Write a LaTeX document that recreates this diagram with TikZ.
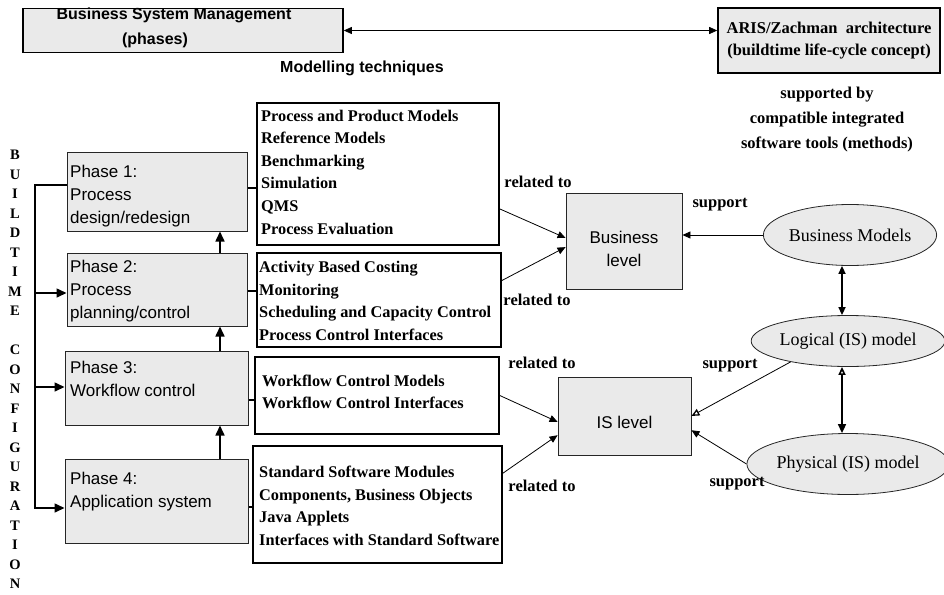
\documentclass[tikz,border=0pt]{standalone}
\usepackage{fontspec}
\setmainfont{Liberation Serif}
\setsansfont{Liberation Sans}
\usetikzlibrary{arrows.meta,shapes.geometric}
\definecolor{boxgrey}{RGB}{234,234,234}
\begin{document}
\begin{tikzpicture}[x=1pt,y=-1pt,
  >={Triangle[length=8pt,width=7pt]},
  thickbox/.style={draw=black, line width=1.6pt, fill=boxgrey, inner sep=0pt},
  phasebox/.style={draw=black!85, line width=1pt, fill=boxgrey, inner sep=0pt},
  techbox/.style={draw=black, line width=1.6pt, fill=white, inner sep=0pt},
  levelbox/.style={draw=black!85, line width=0.9pt, fill=boxgrey, inner sep=0pt},
  model/.style={ellipse, draw=black!85, line width=0.8pt, fill=boxgrey, inner sep=0pt},
  sanstext/.style={font=\sffamily\fontsize{17}{23}\selectfont, inner sep=0pt, align=left, anchor=west},
  listtext/.style={font=\bfseries\fontsize{16.3}{22.6}\selectfont, inner sep=0pt, align=left, anchor=west},
  lbl/.style={font=\bfseries\fontsize{16.5}{20}\selectfont, inner sep=0pt},
  vl/.style={font=\bfseries\fontsize{14.5}{14.5}\selectfont, inner sep=0pt},
  thickline/.style={line width=1.6pt},
  thinline/.style={line width=0.8pt},
  bigtip/.style={-{Triangle[length=10pt,width=9pt]}},
  opentip/.style={-{Triangle[open,length=8pt,width=7pt,line width=1.3pt]}}]
\useasboundingbox (0,0) rectangle (944,594);

% top boxes
\node[thickbox, minimum width=320pt, minimum height=44pt] (bsm) at (183,30.5) {};
\node[font=\sffamily\bfseries\fontsize{16}{18}\selectfont, inner sep=0pt] (bsmt1) at (174,15.5) {Business System Management};
\node[font=\sffamily\bfseries\fontsize{16}{18}\selectfont, inner sep=0pt] (bsmt2) at (155,40) {(phases)};
\node[thickbox, minimum width=222pt, minimum height=65pt, align=center,
      font=\bfseries\fontsize{16.5}{22}\selectfont] (aris) at (829,40.5)
      {ARIS/Zachman\ \ architecture\\(buildtime life-cycle concept)};
\draw[thinline,<->] (bsm.east) -- (aris.west |- bsm.east);
\node[font=\sffamily\bfseries\fontsize{16}{18}\selectfont, inner sep=0pt] (modtech) at (362,68) {Modelling techniques};
\node[lbl, align=center, font=\bfseries\fontsize{16.5}{25}\selectfont] (suppby) at (827,120)
  {supported by\\compatible integrated\\software tools (methods)};

% vertical text
\foreach \c [count=\i from 0] in {B,U,I,L,D,T,I,M,E}
  \node[vl] (vb\i) at (15,155+19.5*\i) {\c};
\foreach \c [count=\i from 10] in {C,O,N,F,I,G,U,R,A,T,I,O,N}
  \node[vl] (vc\i) at (15,155+19.5*\i) {\c};

% phase boxes
\node[phasebox, minimum width=180pt, minimum height=79pt] (p1) at (157,191.5) {};
\node[phasebox, minimum width=180pt, minimum height=73pt] (p2) at (157,289.5) {};
\node[phasebox, minimum width=183pt, minimum height=74pt] (p3) at (156.5,388) {};
\node[phasebox, minimum width=183pt, minimum height=84pt] (p4) at (156.5,501) {};
\node[sanstext] (pt1) at (70,196) {Phase 1:\\Process\\design/redesign};
\node[sanstext] (pt2) at (70,291) {Phase 2:\\Process\\planning/control};
\node[sanstext] (pt3) at (70,379) {Phase 3:\\Workflow control};
\node[sanstext] (pt4) at (70,492) {Phase 4:\\Application system};

% technique boxes
\node[techbox, minimum width=242pt, minimum height=142pt] (t1) at (378,174) {};
\node[techbox, minimum width=244pt, minimum height=94pt] (t2) at (379,300) {};
\node[techbox, minimum width=244pt, minimum height=77pt] (t3) at (377,395.5) {};
\node[techbox, minimum width=249pt, minimum height=117pt] (t4) at (377.5,504.5) {};
\node[listtext] (tt1) at (261,172) {Process and Product Models\\Reference Models\\Benchmarking\\Simulation\\QMS\\Process Evaluation};
\node[listtext] (tt2) at (259,301) {Activity Based Costing\\Monitoring\\Scheduling and Capacity Control\\Process Control Interfaces};
\node[listtext] (tt3) at (262,392) {Workflow Control Models\\Workflow Control Interfaces};
\node[listtext] (tt4) at (259,506) {Standard Software Modules\\Components, Business Objects\\Java Applets\\Interfaces with Standard Software};

% left bracket
\coordinate (lt) at (35,185);
\coordinate (lb) at (35,508);
\coordinate (a2) at (35,293);
\coordinate (a3) at (35,387);
\draw[thickline,bigtip] (p1.west |- lt) -- (lt) -- (lb) -- (p4.west |- lb);
\draw[thickline,bigtip] (a2) -- (p2.west |- a2);
\draw[thickline,bigtip] (a3) -- (p3.west |- a3);

% phase arrows
\coordinate (vx) at (220,0);
\draw[thickline,bigtip] (p2.north -| vx) -- (p1.south -| vx);
\draw[thickline,bigtip] (p3.north -| vx) -- (p2.south -| vx);
\draw[thickline,bigtip] (p4.north -| vx) -- (p3.south -| vx);

% short connectors
\coordinate (c1) at (0,188);
\coordinate (c2) at (0,291);
\coordinate (c3) at (0,400);
\coordinate (c4) at (0,507);
\draw[thickline] (p1.east |- c1) -- (t1.west |- c1);
\draw[thickline] (p2.east |- c2) -- (t2.west |- c2);
\draw[thickline] (p3.east |- c3) -- (t3.west |- c3);
\draw[thickline] (p4.east |- c4) -- (t4.west |- c4);

% level boxes
\node[levelbox, minimum width=116pt, minimum height=96pt] (bl) at (624,241) {};
\node[font=\sffamily\fontsize{17}{23}\selectfont, inner sep=0pt, align=center] (blt) at (624,249) {Business\\level};
\node[levelbox, minimum width=133pt, minimum height=78pt] (isl) at (624.5,416) {};
\node[font=\sffamily\fontsize{17}{23}\selectfont, inner sep=0pt] (islt) at (624.5,422) {IS level};

% models
\node[model, minimum width=166pt, minimum height=61pt, font=\fontsize{18}{20}\selectfont] (bm) at (850,235) {Business Models};
\node[model, minimum width=167pt, minimum height=51pt, font=\fontsize{18}{20}\selectfont] (lm) at (848,341) {Logical (IS) model};
\node[model, minimum width=169pt, minimum height=61pt, font=\fontsize{18}{20}\selectfont] (pm) at (848,464) {Physical (IS) model};

% related arrows
\draw[thinline,->] (t1.-16.6) -- (bl.177);
\draw[thinline,->] (t2.9.3) -- (bl.186);
\draw[thinline,->] (t3.-0.7) -- (isl.185);
\draw[thinline,->] (t4.14.2) -- (isl.196);

% support arrows
\coordinate (vx2) at (842,0);
\draw[thinline,->] (bm.west) -- (bm.west -| bl.east);
\draw[thickline,<->] (bm.south -| vx2) -- (lm.north -| vx2);
\draw[thickline,{Triangle[open,length=8pt,width=7pt]}-{Triangle[length=9pt,width=8pt]}] (lm.south -| vx2) -- (pm.north -| vx2);
\draw[thinline,opentip] (lm.200) -- (isl.east);
\draw[thinline,->] (pm.west) -- (isl.-12.7);

% labels
\node[lbl] (rel1) at (538,182) {related to};
\node[lbl] (rel2) at (537,300) {related to};
\node[lbl] (rel3) at (542,363) {related to};
\node[lbl] (rel4) at (542,486) {related to};
\node[lbl] (sup1) at (720,205) {support};
\node[lbl] (sup2) at (730,366) {support};
\node[lbl] (sup3) at (737,484) {support};
\end{tikzpicture}
\end{document}
